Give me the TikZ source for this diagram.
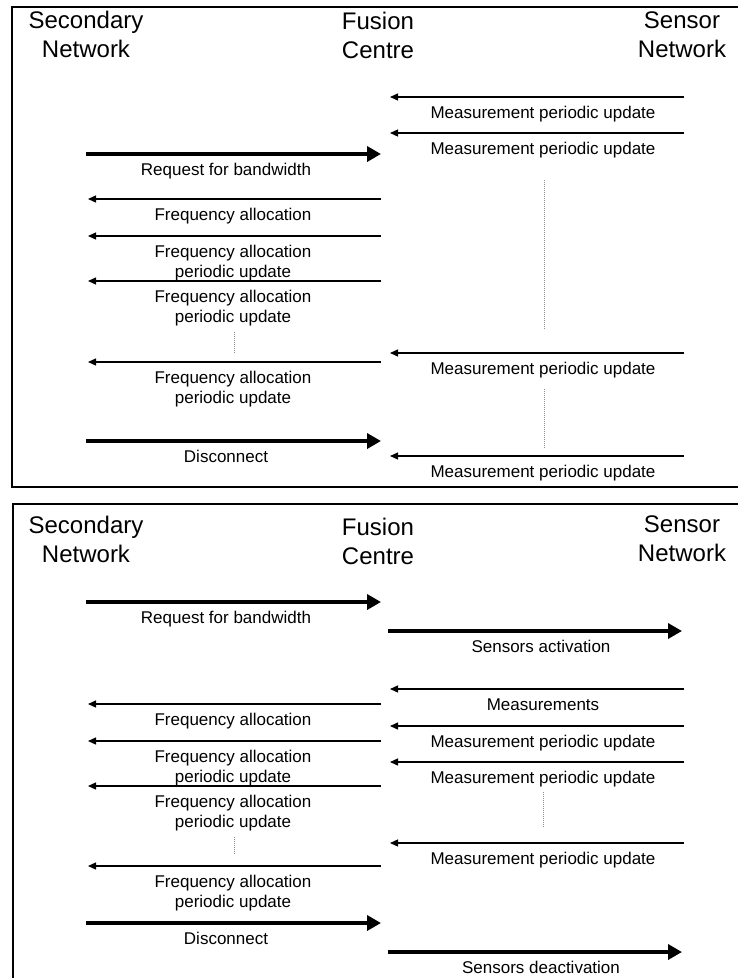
\documentclass[tikz,border=0pt]{standalone}
\usepackage{fontspec}
\setmainfont{Liberation Sans}
\usetikzlibrary{arrows.meta}

% one message: name, from x, to x, y, line style, label x,
% label drop (to the baseline of its last line), label text
\newcommand\sendmsg[8]{%
  \coordinate (#1-from) at (#2,#4);
  \coordinate (#1-to) at (#3,#4);
  \draw[#5] (#1-from) -- (#1-to);
  \node[lbl] (#1-text) at (#6,#4+#7) {#8};}

\begin{document}
\begin{tikzpicture}[x=1pt,y=-1pt,
  frame/.style={line width=2pt},
  ttl/.style={font=\fontsize{24}{29}\selectfont, align=center, inner sep=0pt, anchor=base},
  lbl/.style={font=\fontsize{17}{20}\selectfont, align=center, inner sep=0pt, anchor=base},
  thinmsg/.style={line width=1.3pt, -{Triangle[length=8pt,width=7pt]}},
  thickmsg/.style={line width=4.5pt, -{Triangle[length=14pt,width=15pt]}},
  pause/.style={black!45, line width=0.8pt, dash pattern=on 1pt off 1pt}]
\useasboundingbox (0,0) rectangle (738,978);
\clip (0,0) rectangle (738,978);

% ---------- upper chart: sensors reporting continuously ----------
\draw[frame] (12,7) rectangle (760,487);
\node[ttl] (secA) at (86,57) {Secondary\\Network};
\node[ttl] (fusA) at (378,58) {Fusion\\Centre};
\node[ttl] (senA) at (682,57) {Sensor\\Network};

\sendmsg{a1}{684}{390}{97}{thinmsg}{543}{21}{Measurement periodic update}
\sendmsg{a2}{684}{390}{133}{thinmsg}{543}{21}{Measurement periodic update}
\sendmsg{a3}{86}{381}{154}{thickmsg}{226}{21}{Request for bandwidth}
\sendmsg{a4}{381}{88}{199}{thinmsg}{233}{21}{Frequency allocation}
\sendmsg{a5}{381}{88}{236}{thinmsg}{233}{41}{Frequency allocation\\periodic update}
\sendmsg{a6}{381}{88}{281}{thinmsg}{233}{41}{Frequency allocation\\periodic update}
\sendmsg{a7}{684}{390}{353}{thinmsg}{543}{21}{Measurement periodic update}
\sendmsg{a8}{381}{88}{362}{thinmsg}{233}{41}{Frequency allocation\\periodic update}
\sendmsg{a9}{86}{381}{441}{thickmsg}{226}{21}{Disconnect}
\sendmsg{a10}{684}{390}{456}{thinmsg}{543}{21}{Measurement periodic update}

\draw[pause] (544,180) -- (544,330);
\draw[pause] (234,332) -- (234,353);
\draw[pause] (544,389) -- (544,448);

% ---------- lower chart: sensors activated on request ----------
\draw[frame] (13,504) rectangle (760,1000);
\node[ttl] (secB) at (86,562) {Secondary\\Network};
\node[ttl] (fusB) at (378,564) {Fusion\\Centre};
\node[ttl] (senB) at (682,561) {Sensor\\Network};

\sendmsg{b1}{86}{381}{602}{thickmsg}{226}{21}{Request for bandwidth}
\sendmsg{b2}{388}{682}{631}{thickmsg}{541}{21}{Sensors activation}
\sendmsg{b3}{684}{390}{689}{thinmsg}{543}{21}{Measurements}
\sendmsg{b4}{381}{88}{704}{thinmsg}{233}{21}{Frequency allocation}
\sendmsg{b5}{684}{390}{726}{thinmsg}{543}{21}{Measurement periodic update}
\sendmsg{b6}{381}{88}{741}{thinmsg}{233}{41}{Frequency allocation\\periodic update}
\sendmsg{b7}{684}{390}{762}{thinmsg}{543}{21}{Measurement periodic update}
\sendmsg{b8}{381}{88}{786}{thinmsg}{233}{41}{Frequency allocation\\periodic update}
\sendmsg{b9}{684}{390}{843}{thinmsg}{543}{21}{Measurement periodic update}
\sendmsg{b10}{381}{88}{866}{thinmsg}{233}{41}{Frequency allocation\\periodic update}
\sendmsg{b11}{86}{381}{923}{thickmsg}{226}{21}{Disconnect}
\sendmsg{b12}{388}{682}{952}{thickmsg}{541}{21}{Sensors deactivation}

\draw[pause] (543,792) -- (543,827);
\draw[pause] (234,837) -- (234,855);
\end{tikzpicture}
\end{document}
